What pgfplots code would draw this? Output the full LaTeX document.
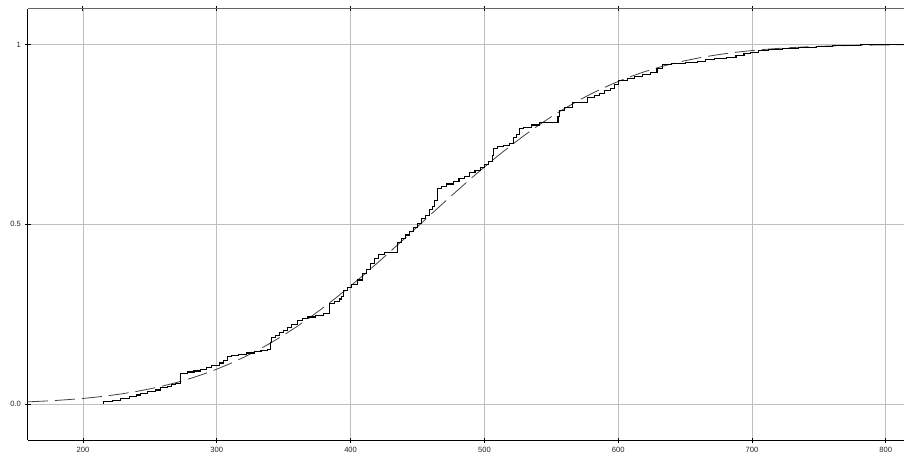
\documentclass[border=0pt]{standalone}
\usepackage{pgfplots}
\pgfplotsset{compat=1.18}
\usepackage{fontspec}
\setmainfont{Liberation Sans}
\begin{document}
\begin{tikzpicture}
\begin{axis}[name=ax, scale only axis, width=876pt, height=431pt,
  xmin=158.9, xmax=813.6, ymin=-0.1, ymax=1.0985,
  axis x line=bottom, axis y line=left,
  axis line style={black, line width=1pt, -},
  xtick={200,300,...,800}, ytick={0,0.5,1}, yticklabels={0.0,0.5,1},
  grid=major, major grid style={black!25, line width=0.9pt},
  tick style={black, line width=0.8pt}, major tick length=5pt, tick align=center,
  tick label style={font=\fontsize{7.6}{9}\selectfont, text=black!85},
  xticklabel style={yshift=-1pt}, yticklabel style={xshift=-1pt},
  /pgf/number format/assume math mode=true,
  scaled ticks=false]
\addplot[black!75, line width=0.8pt, dash pattern=on 20pt off 7pt] coordinates {
(158.9,0.0061) (170,0.0080) (180,0.0100) (190,0.0126) (200,0.0156) (210,0.0193)
(220,0.0237) (230,0.0289) (240,0.0350) (250,0.0422) (260,0.0504) (270,0.0599)
(280,0.0708) (290,0.0831) (300,0.0970) (310,0.1124) (320,0.1296) (330,0.1485)
(340,0.1692) (350,0.1916) (360,0.2159) (370,0.2417) (380,0.2692) (390,0.2981)
(400,0.3285) (410,0.3598) (420,0.3921) (430,0.4254) (440,0.4591) (450,0.4932)
(460,0.5273) (470,0.5612) (480,0.5945) (490,0.6273) (500,0.6591) (510,0.6900)
(520,0.7194) (530,0.7476) (540,0.7740) (550,0.7990) (560,0.8220) (570,0.8435)
(580,0.8630) (590,0.8808) (600,0.8971) (610,0.9115) (620,0.9245) (630,0.9359)
(640,0.9460) (650,0.9547) (660,0.9623) (670,0.9688) (680,0.9743) (690,0.9790)
(700,0.9830) (710,0.9863) (720,0.9890) (730,0.9913) (740,0.9931) (750,0.9946)
(760,0.9958) (770,0.9967) (780,0.9975) (790,0.9981) (800,0.9985) (813.6,0.9990)
};
\addplot[const plot, black, line width=1.1pt] coordinates {
(215,0) (215,0.007) (222,0.011) (228,0.015) (235,0.020) (240,0.025) (243,0.030)
(248,0.034) (254,0.039) (258,0.045) (263,0.050) (266,0.054) (269,0.058) (273,0.086)
(278,0.089) (283,0.092) (288,0.097) (292,0.101) (296,0.106) (299,0.108) (302,0.114)
(305,0.120) (308,0.131) (311,0.136) (316,0.139) (322,0.142) (328,0.145) (333,0.148)
(338,0.151) (340,0.170) (341,0.186) (344,0.190) (347,0.198) (350,0.205) (353,0.213)
(356,0.220) (360,0.233) (364,0.237) (368,0.242) (374,0.246) (380,0.251) (384,0.280)
(388,0.285) (392,0.292) (393,0.300) (395,0.315) (398,0.325) (401,0.333) (405,0.345)
(409,0.364) (412,0.375) (415,0.390) (418,0.405) (421,0.415) (425,0.422) (435,0.450)
(438,0.460) (441,0.470) (444,0.480) (447,0.492) (450,0.503) (453,0.515) (456,0.525)
(459,0.540) (461,0.550) (463,0.567) (465,0.600) (468,0.605) (472,0.612) (477,0.620)
(481,0.626) (485,0.633) (489,0.644) (493,0.650) (497,0.658) (500,0.665) (503,0.675)
(506,0.690) (507,0.711) (510,0.715) (514,0.720) (519,0.725) (522,0.740) (524,0.750)
(526,0.765) (529,0.770) (535,0.776) (541,0.783) (555,0.800) (556,0.817) (560,0.825)
(566,0.839) (577,0.853) (582,0.858) (586,0.864) (590,0.871) (594,0.878) (597,0.889)
(600,0.900) (607,0.905) (612,0.912) (618,0.917) (624,0.922) (629,0.933) (633,0.944)
(640,0.947) (650,0.950) (659,0.953) (665,0.957) (672,0.960) (681,0.964) (688,0.970)
(694,0.975) (699,0.978) (705,0.982) (712,0.985) (723,0.989) (735,0.992) (748,0.995)
(760,0.997) (781,1.000) (813.6,1.000)
};
\end{axis}
\begin{axis}[scale only axis, width=876pt, height=431pt,
  xmin=158.9, xmax=813.6, ymin=-0.1, ymax=1.0985,
  axis x line=top, axis y line=none,
  axis line style={black!60, line width=1pt, -},
  xtick={200,300,...,800}, xticklabels={}, ytick=\empty,
  tick style={black, line width=1pt}, major tick length=5pt, tick align=center]
\end{axis}
\pgfresetboundingbox
\path ([shift={(-28pt,-15pt)}]ax.south west) rectangle ([shift={(0pt,9pt)}]ax.north east);
\end{tikzpicture}
\end{document}
